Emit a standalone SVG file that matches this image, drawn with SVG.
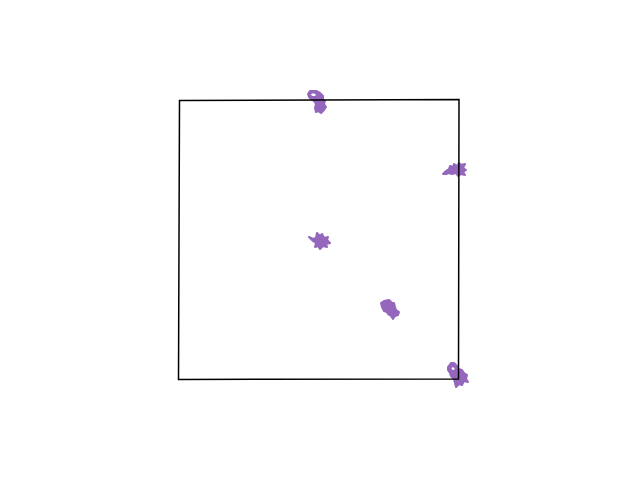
<svg xmlns="http://www.w3.org/2000/svg" width="640" height="480" viewBox="0 0 640 480">
<style>
.blob{fill:#9467bd;stroke:#9467bd;stroke-width:2;stroke-linejoin:round;stroke-linecap:round}
.sq{fill:none;stroke:#000;stroke-width:1.5;stroke-linejoin:miter}
</style>
<rect width="640" height="480" fill="#fff"/>
<g id="blobs">
<path class="blob" d="M308,94 L310,91 L316,91 L320,93 L323,96 L323,99 L325,101 L324,104 L326,107 L324,110 L321,113 L318,111 L316,112 L315,108 L316,104 L314,101 L311,99 L309,97 Z"/>
<path d="M311,94.5 C312,93 315,93 316,95 C315,96.5 312,96.5 311,94.5 Z" fill="#fff"/>
<path class="blob" d="M443,174 L446,171 L449,169 L450,166 L453,167 L454,164 L457,166 L459,163 L461,165 L465,164 L463,168 L466,170 L463,172 L465,175 L461,174 L458,176 L456,173 L452,174 L449,173 L446,174 Z"/>
<path class="blob" d="M309,237 L313,239 L316,238 L317,233 L320,236 L322,234 L324,238 L328,237 L327,240 L330,243 L326,244 L327,247 L323,246 L320,249 L318,246 L315,247 L316,243 L313,241 Z"/>
<path class="blob" d="M381,303 L384,301 L389,300 L392,303 L394,303 L395,307 L396,310 L399,312 L398,315 L395,316 L393,319 L391,316 L388,314 L387,312 L384,311 L382,307 Z"/>
<path class="blob" d="M448,367 L451,363 L454,363 L457,366 L458,369 L462,370 L464,373 L467,375 L466,379 L468,382 L464,381 L462,385 L459,384 L456,387 L455,383 L454,379 L451,376 L450,373 L448,370 Z"/>
<path d="M451.5,368 C452.5,366.5 455,367.5 454.5,369.5 C453.5,370.5 451.5,370 451.5,368 Z" fill="#fff"/>
</g>
<g id="square">
<path class="sq" d="M179.5,100.5 L459,99.5 L458.5,379 L178.5,379.5 Z"/>
</g>
</svg>
